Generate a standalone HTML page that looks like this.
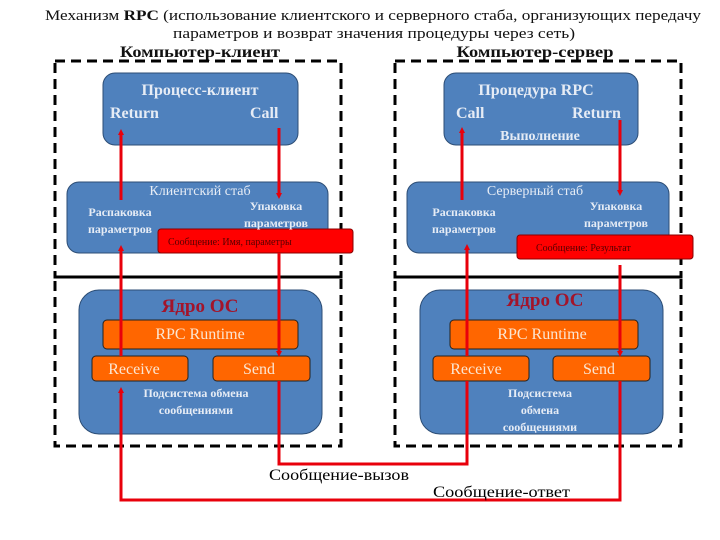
<!DOCTYPE html>
<html><head><meta charset="utf-8"><style>html,body{margin:0;padding:0;background:#fff}svg{display:block}</style></head>
<body>
<svg width="720" height="540" viewBox="0 0 720 540" xmlns="http://www.w3.org/2000/svg" font-family="Liberation Serif, serif">
<defs><marker id="ah" markerWidth="6" markerHeight="6" refX="3" refY="3" orient="auto" markerUnits="userSpaceOnUse"><path d="M0,0 L6,3 L0,6 z" fill="#e8000b"/></marker></defs>
<g font-weight="bold" fill="#111">
<text x="373" y="20" font-size="15" text-anchor="middle" textLength="656" lengthAdjust="spacingAndGlyphs" font-weight="normal">Механизм <tspan font-weight="bold">RPC</tspan> (использование клиентского и серверного стаба, организующих передачу</text>
<text x="374" y="38" font-size="15" text-anchor="middle" textLength="402" lengthAdjust="spacingAndGlyphs" font-weight="normal">параметров и возврат значения процедуры через сеть)</text>
<text x="200" y="57" font-size="16" text-anchor="middle" textLength="160" lengthAdjust="spacingAndGlyphs">Компьютер-клиент</text>
<text x="535" y="57" font-size="16" text-anchor="middle" textLength="157" lengthAdjust="spacingAndGlyphs">Компьютер-сервер</text>
</g>
<g fill="none" stroke="#000" stroke-width="3" stroke-dasharray="10,6">
<rect x="55" y="61" width="286" height="216"/><rect x="55" y="277" width="286" height="169"/>
<rect x="395" y="61" width="286" height="216"/><rect x="395" y="277" width="286" height="169"/>
</g>
<g fill="#4f81bd" stroke="#2c4d75" stroke-width="1">
<rect x="103" y="73" width="195" height="72" rx="12"/>
<rect x="67" y="182" width="261" height="71" rx="12"/>
<rect x="444" y="73" width="194" height="72" rx="12"/>
<rect x="407" y="182" width="262" height="71" rx="12"/>
<rect x="79" y="290" width="243" height="144" rx="20"/>
<rect x="420" y="290" width="243" height="144" rx="20"/>
</g>
<g fill="#ff0000" stroke="#800" stroke-width="1">
<rect x="158" y="229" width="195" height="24" rx="3"/>
<rect x="517" y="235" width="176" height="24" rx="3"/>
</g>
<g fill="#ff6600" stroke="#222" stroke-width="1">
<rect x="103" y="320" width="195" height="29" rx="4"/>
<rect x="92" y="356" width="96" height="25" rx="4"/>
<rect x="213" y="356" width="97" height="25" rx="4"/>
<rect x="450" y="320" width="188" height="29" rx="4"/>
<rect x="433" y="356" width="96" height="25" rx="4"/>
<rect x="553" y="356" width="97" height="25" rx="4"/>
</g>
<g fill="#e6ecf5" font-weight="bold">
<text x="200" y="95" font-size="16" text-anchor="middle">Процесс-клиент</text>
<text x="110" y="118" font-size="16">Return</text>
<text x="250" y="118" font-size="16">Call</text>
<text x="536" y="95" font-size="16" text-anchor="middle">Процедура RPC</text>
<text x="456" y="118" font-size="16">Call</text>
<text x="572" y="118" font-size="16">Return</text>
<text x="540" y="140" font-size="14" text-anchor="middle">Выполнение</text>
<text x="200" y="195" font-size="14" text-anchor="middle" font-weight="normal">Клиентский стаб</text>
<text x="120" y="216" font-size="12" text-anchor="middle">Распаковка</text>
<text x="120" y="233" font-size="12" text-anchor="middle">параметров</text>
<text x="276" y="210" font-size="12" text-anchor="middle">Упаковка</text>
<text x="276" y="227" font-size="12" text-anchor="middle">параметров</text>
<text x="535" y="195" font-size="14" text-anchor="middle" font-weight="normal">Серверный стаб</text>
<text x="464" y="216" font-size="12" text-anchor="middle">Распаковка</text>
<text x="464" y="233" font-size="12" text-anchor="middle">параметров</text>
<text x="616" y="210" font-size="12" text-anchor="middle">Упаковка</text>
<text x="616" y="227" font-size="12" text-anchor="middle">параметров</text>
<text x="196" y="397" font-size="12" text-anchor="middle">Подсистема обмена</text>
<text x="196" y="414" font-size="12" text-anchor="middle">сообщениями</text>
<text x="540" y="397" font-size="12" text-anchor="middle">Подсистема</text>
<text x="540" y="414" font-size="12" text-anchor="middle">обмена</text>
<text x="540" y="431" font-size="12" text-anchor="middle">сообщениями</text>
</g>
<g fill="#550000" font-size="10">
<text x="168" y="245">Сообщение: Имя, параметры</text>
<text x="536" y="251">Сообщение: Результат</text>
</g>
<g fill="#a3142a" font-weight="bold" font-size="19" text-anchor="middle">
<text x="200" y="312">Ядро ОС</text><text x="545" y="306">Ядро ОС</text>
</g>
<g fill="#fbe6d2" font-size="16" text-anchor="middle">
<text x="200" y="339">RPC Runtime</text><text x="542" y="339">RPC Runtime</text>
<text x="134" y="374">Receive</text><text x="259" y="374">Send</text>
<text x="476" y="374">Receive</text><text x="599" y="374">Send</text>
</g>
<g stroke="#e8000b" stroke-width="3" fill="none">
<line x1="121" y1="200" x2="121" y2="132" marker-end="url(#ah)"/>
<line x1="279" y1="128" x2="279" y2="196" marker-end="url(#ah)"/>
<line x1="121" y1="356" x2="121" y2="248" marker-end="url(#ah)"/>
<line x1="279" y1="253" x2="279" y2="354" marker-end="url(#ah)"/>
<line x1="462" y1="200" x2="462" y2="130" marker-end="url(#ah)"/>
<line x1="620" y1="120" x2="620" y2="193" marker-end="url(#ah)"/>
<line x1="467" y1="356" x2="467" y2="247" marker-end="url(#ah)"/>
<line x1="620" y1="265" x2="620" y2="354" marker-end="url(#ah)"/>
<polyline points="279,381 279,464 467,464 467,381"/>
<polyline points="620,381 620,500 121,500 121,390" marker-end="url(#ah)"/>
</g>
<g fill="#000" font-size="16">
<text x="269" y="480" textLength="140" lengthAdjust="spacingAndGlyphs">Сообщение-вызов</text>
<text x="433" y="497" textLength="137" lengthAdjust="spacingAndGlyphs">Сообщение-ответ</text>
</g>
</svg>
</body></html>
